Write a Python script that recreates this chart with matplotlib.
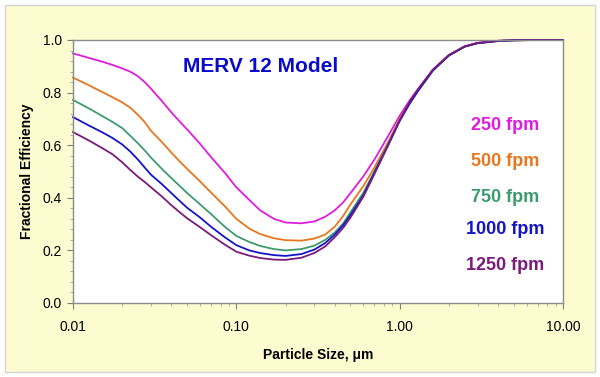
import matplotlib.pyplot as plt
from matplotlib.patches import FancyBboxPatch
from matplotlib.ticker import FixedLocator, MultipleLocator, LogLocator, NullFormatter

plt.rcParams['font.family'] = ['Liberation Sans', 'DejaVu Sans']

# particle size (um) and fractional efficiency
particle_size = [0.01, 0.0125, 0.015, 0.0175, 0.02, 0.0225, 0.025, 0.0275, 0.03, 0.035,
                 0.04, 0.045, 0.05, 0.06, 0.07, 0.085, 0.1, 0.12, 0.14, 0.17,
                 0.2, 0.25, 0.3, 0.35, 0.4, 0.45, 0.5, 0.6, 0.7, 0.85,
                 1.0, 1.15, 1.3, 1.6, 2.0, 2.5, 3.0, 4.0, 5.0, 7.0, 10.0]

eff_250 = [0.949, 0.932, 0.918, 0.905, 0.892, 0.879, 0.862, 0.84, 0.815, 0.768,
           0.725, 0.69, 0.66, 0.605, 0.555, 0.495, 0.44, 0.392, 0.352, 0.32,
           0.306, 0.303, 0.31, 0.328, 0.352, 0.382, 0.418, 0.482, 0.545, 0.635,
           0.712, 0.77, 0.815, 0.887, 0.942, 0.975, 0.989, 0.997, 0.999, 1.0, 1.0]
eff_500 = [0.857, 0.828, 0.803, 0.782, 0.763, 0.742, 0.715, 0.688, 0.655, 0.612,
           0.572, 0.538, 0.51, 0.462, 0.42, 0.368, 0.32, 0.283, 0.262, 0.246,
           0.239, 0.237, 0.245, 0.26, 0.29, 0.33, 0.375, 0.445, 0.515, 0.612,
           0.70, 0.76, 0.81, 0.885, 0.941, 0.975, 0.988, 0.996, 0.999, 1.0, 1.0]
eff_750 = [0.772, 0.74, 0.712, 0.688, 0.665, 0.635, 0.607, 0.58, 0.553, 0.51,
           0.475, 0.445, 0.418, 0.375, 0.338, 0.29, 0.255, 0.232, 0.217, 0.205,
           0.20, 0.205, 0.218, 0.24, 0.268, 0.302, 0.345, 0.42, 0.50, 0.605,
           0.695, 0.758, 0.808, 0.884, 0.941, 0.975, 0.988, 0.996, 0.999, 1.0, 1.0]
eff_1000 = [0.707, 0.675, 0.65, 0.627, 0.603, 0.575, 0.545, 0.515, 0.488, 0.452,
            0.418, 0.388, 0.362, 0.325, 0.29, 0.25, 0.22, 0.20, 0.19, 0.182,
            0.179, 0.186, 0.203, 0.228, 0.26, 0.295, 0.335, 0.41, 0.495, 0.60,
            0.692, 0.758, 0.808, 0.885, 0.941, 0.975, 0.988, 0.996, 0.999, 1.0, 1.0]
eff_1250 = [0.65, 0.618, 0.59, 0.565, 0.535, 0.505, 0.48, 0.46, 0.44, 0.405,
            0.372, 0.345, 0.322, 0.288, 0.258, 0.222, 0.195, 0.18, 0.171, 0.165,
            0.164, 0.172, 0.19, 0.215, 0.25, 0.285, 0.325, 0.405, 0.49, 0.60,
            0.695, 0.765, 0.814, 0.888, 0.943, 0.976, 0.989, 0.997, 0.999, 1.0, 1.0]

labels = ['250 fpm', '500 fpm', '750 fpm', '1000 fpm', '1250 fpm']
series = [eff_250, eff_500, eff_750, eff_1000, eff_1250]
colors = ['#E01CE0', '#E8761E', '#3E9B6E', '#1414C8', '#7A1A7A']

fig = plt.figure(figsize=(6, 3.77), dpi=100)
fig.patch.set_facecolor('white')

# pale yellow chart area, behind the axes
panel = FancyBboxPatch((5 / 600, 5 / 377), 590 / 600, 367 / 377,
                       boxstyle='square,pad=0', transform=fig.transFigure,
                       facecolor='#FDFBD0', edgecolor='#D6D6D6', linewidth=1,
                       zorder=-10)
fig.patches.append(panel)

ax = fig.add_axes([73 / 600, 74 / 377, 490 / 600, 263 / 377])
ax.set_facecolor('white')

for y, c in zip(series, colors):
    ax.plot(particle_size, y, color=c, linewidth=1.3, clip_on=False)

ax.set_xscale('log')
ax.set_xlim(0.01, 10)
ax.set_ylim(0, 1.0)

ax.xaxis.set_major_locator(FixedLocator([0.01, 0.1, 1, 10]))
ax.set_xticklabels(['0.01', '0.10', '1.00', '10.00'])
ax.xaxis.set_minor_locator(LogLocator(base=10, subs=range(2, 10)))
ax.xaxis.set_minor_formatter(NullFormatter())
ax.yaxis.set_major_locator(MultipleLocator(0.2))
ax.yaxis.set_major_formatter(plt.FuncFormatter(lambda v, p: '%.1f' % v))
ax.yaxis.set_minor_locator(MultipleLocator(0.04))

ax.tick_params(axis='both', which='major', direction='out', length=4,
               color='#808080', labelsize=10, pad=4)
ax.tick_params(axis='both', which='minor', direction='out', length=2.5,
               color='#A0A0A0')
ax.tick_params(axis='x', which='major', pad=8)

for s in ax.spines.values():
    s.set_color('#8C8C8C')
    s.set_linewidth(1.0)

ax.set_xlabel('Particle Size, μm', fontsize=10, fontweight='bold', labelpad=10)
ax.set_ylabel('Fractional Efficiency', fontsize=10, fontweight='bold', labelpad=6)

fig.text(261 / 600, 1 - 67 / 377, 'MERV 12 Model', color='#0A0ACC',
         fontsize=15, fontweight='bold', ha='center', va='center')

label_y = [125, 162, 197, 229, 265]
for lab, c, yy in zip(labels, colors, label_y):
    fig.text(505 / 600, 1 - yy / 377, lab, color=c, fontsize=13,
             fontweight='bold', ha='center', va='center')

fig.savefig('out.png', dpi=100)
